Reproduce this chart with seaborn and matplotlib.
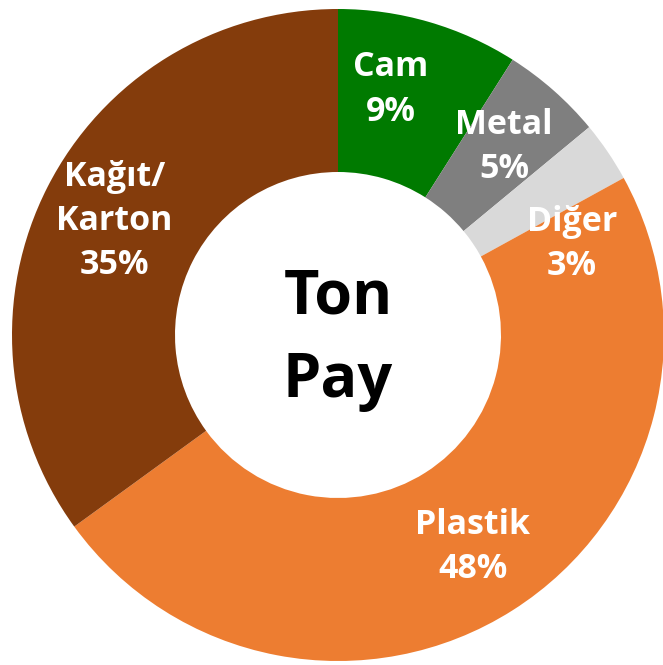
import seaborn as sns
import matplotlib.pyplot as plt
import numpy as np

sns.set_theme(style='white')
plt.rcParams['font.family'] = ['Open Sans', 'DejaVu Sans']

# data, clockwise from the top
labels = ['Cam', 'Metal', 'Diğer', 'Plastik', 'Kağıt/\nKarton']
values = [9, 5, 3, 48, 35]
colors = ['#007A00', '#7F7F7F', '#D9D9D9', '#ED7D31', '#843C0C']
# small nudges of the label angle (degrees) to mimic manual placement
label_shift = [4, 0, -13, 0, 0]

fig = plt.figure(figsize=(6.63, 6.65), dpi=100)
ax = fig.add_axes([12 / 663, 4 / 665, 652 / 663, 652 / 665])

wedges, _ = ax.pie(values, colors=colors, startangle=90, counterclock=False,
                   radius=1, wedgeprops=dict(width=0.5, linewidth=0))

for w, lab, v, s in zip(wedges, labels, values, label_shift):
    mid = np.deg2rad((w.theta1 + w.theta2) / 2 + s)
    r = 0.77
    ax.text(r * np.cos(mid), r * np.sin(mid), f'{lab}\n{v}%', color='white',
            ha='center', va='center', fontsize=24.5, fontweight='bold',
            linespacing=1.4)

ax.text(0, -0.015, 'Ton\nPay', ha='center', va='center', fontsize=44,
        fontweight='bold', color='black', linespacing=1.5)

ax.set_xlim(-1, 1)
ax.set_ylim(-1, 1)
ax.set_aspect('equal')
ax.axis('off')

fig.savefig('out.png', dpi=100)
